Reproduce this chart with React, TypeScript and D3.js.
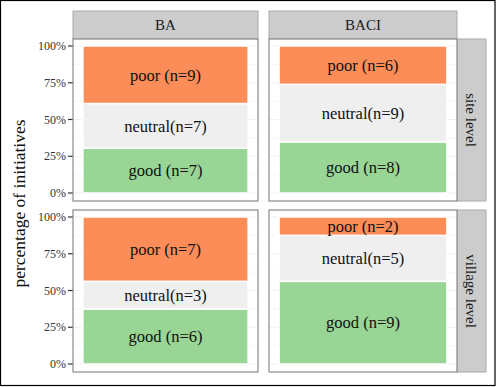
import React from "react";
import * as d3 from "d3";

// facet columns / rows
const designs = ["BA", "BACI"];
const levels = ["site level", "village level"];
const outcomes = ["good", "neutral", "poor"];

// counts per outcome, one entry per design (BA, BACI)
const siteGood = [7, 8];
const siteNeutral = [7, 9];
const sitePoor = [9, 6];
const villageGood = [6, 9];
const villageNeutral = [3, 5];
const villagePoor = [7, 2];

const yTicks = [0, 0.25, 0.5, 0.75, 1];
const yMinor = [0.125, 0.375, 0.625, 0.875];

const color = d3
  .scaleOrdinal<string, string>()
  .domain(outcomes)
  .range(["#99d594", "#efefef", "#fc8d59"]);

const labelFor = (k: string, n: number) =>
  k === "neutral" ? `neutral(n=${n})` : `${k} (n=${n})`;

const W = 496,
  H = 387;
const font = "'Liberation Serif', 'Times New Roman', serif";

// panel geometry
const colX = [
  [73, 258],
  [269, 457],
];
const rowY = [
  [39, 201],
  [210, 372],
];
const stripTop = [11, 39];
const stripRight = [457, 486];

interface IRow {
  design: string;
  good: number;
  neutral: number;
  poor: number;
}

const rows: IRow[][] = [
  designs.map((d, i) => ({
    design: d,
    good: siteGood[i],
    neutral: siteNeutral[i],
    poor: sitePoor[i],
  })),
  designs.map((d, i) => ({
    design: d,
    good: villageGood[i],
    neutral: villageNeutral[i],
    poor: villagePoor[i],
  })),
];

export default function App(): JSX.Element {
  const stack = d3
    .stack<IRow>()
    .keys(outcomes)
    .offset(d3.stackOffsetExpand);

  return (
    <svg
      width={W}
      height={H}
      style={{ position: "absolute", left: 0, top: 0 }}
      fontFamily={font}
    >
      <rect x={0} y={0} width={W} height={H} fill="#fff" />
      <rect
        x={0.5}
        y={0.5}
        width={W - 1.5}
        height={H - 2}
        fill="none"
        stroke="#000"
        strokeWidth={1.2}
      />

      {/* y axis title */}
      <text
        transform={`translate(19, ${(rowY[0][0] + rowY[1][1]) / 2 - 2}) rotate(-90)`}
        dy="0.35em"
        textAnchor="middle"
        fontSize={17.5}
        fill="#111"
      >
        percentage of initiatives
      </text>

      {/* column strips */}
      {designs.map((d, c) => (
        <g key={d}>
          <rect
            x={colX[c][0]}
            y={stripTop[0]}
            width={colX[c][1] - colX[c][0]}
            height={stripTop[1] - stripTop[0]}
            fill="#cccccc"
            stroke="#aaaaaa"
          />
          <text
            x={(colX[c][0] + colX[c][1]) / 2}
            y={(stripTop[0] + stripTop[1]) / 2}
            dy="0.35em"
            textAnchor="middle"
            fontSize={15}
            fill="#1a1a1a"
          >
            {d}
          </text>
        </g>
      ))}

      {/* row strips */}
      {levels.map((l, r) => (
        <g key={l}>
          <rect
            x={stripRight[0]}
            y={rowY[r][0]}
            width={stripRight[1] - stripRight[0]}
            height={rowY[r][1] - rowY[r][0]}
            fill="#cccccc"
            stroke="#aaaaaa"
          />
          <text
            transform={`translate(${(stripRight[0] + stripRight[1]) / 2}, ${
              (rowY[r][0] + rowY[r][1]) / 2
            }) rotate(90)`}
            dy="0.35em"
            textAnchor="middle"
            fontSize={15}
            fill="#1a1a1a"
          >
            {l}
          </text>
        </g>
      ))}

      {rows.map((data, r) => {
        const y = d3
          .scaleLinear()
          .domain([0, 1])
          .range([rowY[r][1] - 8, rowY[r][0] + 7]);
        const series = stack(data);
        return (
          <g key={r}>
            {/* y axis */}
            {yTicks.map((t) => (
              <g key={t}>
                <line
                  x1={colX[0][0] - 5}
                  x2={colX[0][0]}
                  y1={y(t)}
                  y2={y(t)}
                  stroke="#333"
                  strokeWidth={1.2}
                />
                <text
                  x={colX[0][0] - 7}
                  y={y(t)}
                  dy="0.35em"
                  textAnchor="end"
                  fontSize={12}
                  fill="#333"
                >
                  {d3.format(".0%")(t)}
                </text>
              </g>
            ))}
            {designs.map((d, c) => {
              const x = d3
                .scaleBand()
                .domain([d])
                .range(colX[c] as [number, number])
                .paddingOuter(0.06);
              return (
                <g key={d}>
                  <rect
                    x={colX[c][0]}
                    y={rowY[r][0]}
                    width={colX[c][1] - colX[c][0]}
                    height={rowY[r][1] - rowY[r][0]}
                    fill="#fff"
                  />
                  {yTicks.concat(yMinor).map((t) => (
                    <line
                      key={t}
                      x1={colX[c][0]}
                      x2={colX[c][1]}
                      y1={y(t)}
                      y2={y(t)}
                      stroke="#ececec"
                      strokeWidth={yMinor.includes(t) ? 0.5 : 0.8}
                    />
                  ))}
                  {series.map((s) => {
                    const seg = s[c];
                    const n = data[c][s.key as keyof IRow] as number;
                    return (
                      <g key={s.key}>
                        <rect
                          x={x(d)}
                          y={y(seg[1])}
                          width={x.bandwidth()}
                          height={y(seg[0]) - y(seg[1])}
                          fill={color(s.key)}
                          stroke="#fff"
                          strokeWidth={1.5}
                        />
                        <text
                          x={(x(d) as number) + x.bandwidth() / 2}
                          y={(y(seg[0]) + y(seg[1])) / 2}
                          dy="0.35em"
                          textAnchor="middle"
                          fontSize={16.5}
                          fill="#111"
                        >
                          {labelFor(s.key, n)}
                        </text>
                      </g>
                    );
                  })}
                  <rect
                    x={colX[c][0]}
                    y={rowY[r][0]}
                    width={colX[c][1] - colX[c][0]}
                    height={rowY[r][1] - rowY[r][0]}
                    fill="none"
                    stroke="#8a8a8a"
                    strokeWidth={1.2}
                  />
                </g>
              );
            })}
          </g>
        );
      })}
    </svg>
  );
}
